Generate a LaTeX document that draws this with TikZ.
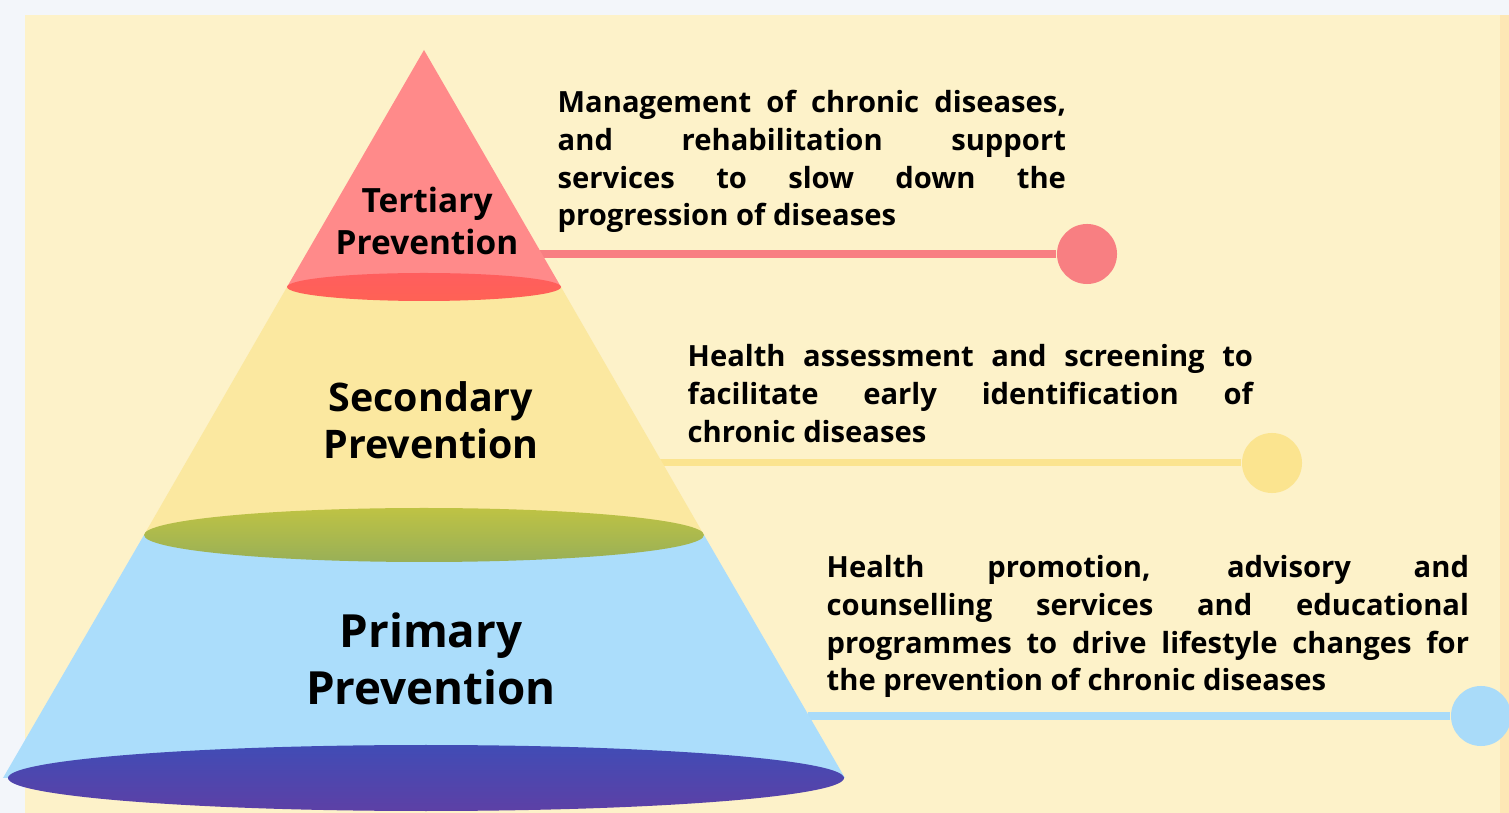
\documentclass[tikz,border=0pt]{standalone}
\usepackage{fontspec}
\setmainfont{Open Sans}
\usepackage{tikz}

\definecolor{paper}{HTML}{FDF2C9}
\definecolor{frame}{HTML}{F3F6FA}
\definecolor{tertfill}{HTML}{FF8A8A}
\definecolor{tertbase}{HTML}{FF5E5E}
\definecolor{secfill}{HTML}{FBE8A0}
\definecolor{secbase}{HTML}{B3B850}
\definecolor{primfill}{HTML}{ABDDFB}
\definecolor{primbase}{HTML}{4450BF}
\definecolor{tertdot}{HTML}{F87F82}
\definecolor{secdot}{HTML}{FBE48F}
\definecolor{primdot}{HTML}{A9DBF9}

\begin{document}
\begin{tikzpicture}[x=0.01cm,y=-0.01cm,
    level/.style={font=\bfseries,align=center,text=black},
    note/.style={font=\bfseries\fontsize{8.3}{10.7}\selectfont,align=justify,
                 anchor=base west,inner sep=0pt,text=black},
    dot/.style={circle,inner sep=0pt,minimum size=0.6cm}]
    \useasboundingbox (0,0) rectangle (1509,813);
    \fill [frame] (0,0) rectangle (1509,813);
    \fill [paper] (25,15) rectangle (1500,813);
    \fill [paper!90!orange] (1500,15) rectangle (1509,813);

    % connectors
    \foreach \i/\y/\xs/\xc/\col/\w in {1/254/540/1087/tertdot/8,
                                      2/463/660/1272/secdot/7,
                                      3/716/808/1481/primdot/8} {
        \coordinate (s\i) at (\xs,\y);
        \node [dot,fill=\col] (c\i) at (\xc,\y) {};
        \draw [line width=\w*0.2845pt,\col] (s\i) -- (c\i);
    }

    % primary
    \fill [primfill] (144,535) -- (704,535) -- (845,778) -- (3,778) -- cycle;
    \shade [top color=primbase!95!black,bottom color=primbase!80!purple]
        (426,778) ellipse (418 and 33);
    % secondary
    \fill [secfill] (287,287) -- (561,287) -- (704,535) -- (144,535) -- cycle;
    \shade [top color=secbase!85!yellow,bottom color=secbase!85!teal]
        (424,535) ellipse (280 and 27);
    % tertiary
    \fill [tertfill] (424,50) -- (561,287) -- (287,287) -- cycle;
    \shade [top color=tertbase,bottom color=tertbase!90!orange]
        (424,287) ellipse (137 and 14);

    \node [level,font=\bfseries\fontsize{9.5}{11.9}\selectfont] (tert) at (427,221)
        {Tertiary\\Prevention};
    \node [level,font=\bfseries\fontsize{11.2}{13.5}\selectfont] (sec) at (431,420)
        {Secondary\\Prevention};
    \node [level,font=\bfseries\fontsize{13.0}{16.3}\selectfont] (prim) at (431,659)
        {Primary\\Prevention};

    \node [note,text width=5.08cm] (tnote) at (557,113)
        {Management of chronic diseases,\linebreak and rehabilitation support\linebreak
         services to slow down the\linebreak progression of diseases};
    \node [note,text width=5.65cm] (snote) at (687,367)
        {Health assessment and screening to\linebreak facilitate early identification of\linebreak
         chronic diseases};
    \node [note,text width=6.42cm] (pnote) at (826,578)
        {Health promotion, advisory and\linebreak counselling services and educational\linebreak
         programmes to drive lifestyle changes for\linebreak the prevention of chronic diseases};
\end{tikzpicture}
\end{document}
